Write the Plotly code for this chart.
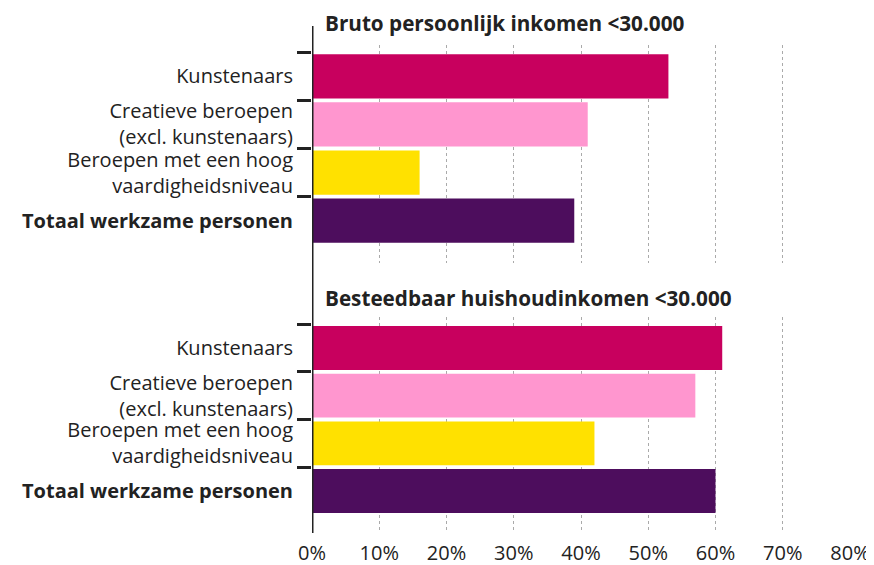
import plotly.graph_objects as go
from plotly.subplots import make_subplots

categories = ["Kunstenaars", "Creatieve beroepen<br>(excl. kunstenaars)",
              "Beroepen met een hoog<br>vaardigheidsniveau", "<b>Totaal werkzame personen</b>"]
bruto_values = [53, 41, 16, 39]
besteedbaar_values = [61, 57, 42, 60]
bar_colors = ["#C8005E", "#FF96CF", "#FFE100", "#4D0D5D"]
group_titles = ["Bruto persoonlijk inkomen <30.000", "Besteedbaar huishoudinkomen <30.000"]
x_ticks = [0, 10, 20, 30, 40, 50, 60, 70, 80]
x_ticklabels = [f"{v}%" for v in x_ticks]

FONT = "Open Sans"
TXT = "#222222"
FS = 20

OFF = 8  # page body margin
W, H = 874 - OFF, 565 - OFF
H_TOP, H_BOT = 45 - OFF, 533 - OFF
span = H_BOT - H_TOP
def py(p):
    return (H_BOT - (p - OFF)) / span

fig = make_subplots(rows=2, cols=1, shared_xaxes=False, vertical_spacing=0.0)

for i, vals in enumerate([bruto_values, besteedbaar_values]):
    fig.add_trace(go.Bar(y=categories, x=vals, orientation="h",
                         marker=dict(color=bar_colors, line=dict(width=0)),
                         showlegend=False, hoverinfo="skip"), row=i + 1, col=1)

dom1 = [py(263), 1.0]
dom2 = [0.0, py(317)]

yaxis_common = dict(type="category", categoryorder="array", categoryarray=categories,
                    range=[3.88, -0.65], tickson="boundaries", ticks="outside",
                    ticklen=14, tickwidth=2.5, tickcolor=TXT, showgrid=False,
                    showline=False, zeroline=False, automargin=False,
                    ticklabelstandoff=18,
                    tickfont=dict(family=FONT, size=FS, color=TXT))
xaxis_common = dict(range=[0, 80], tickvals=x_ticks, ticktext=x_ticklabels,
                    showgrid=True, griddash="dot", gridcolor="#AAAAAA", gridwidth=1,
                    zeroline=False, showline=False, ticks="", automargin=False)

fig.update_layout(
    width=W, height=H,
    margin=dict(l=312 - OFF, r=874 - 850, t=H_TOP, b=H - H_BOT),
    paper_bgcolor="white", plot_bgcolor="white",
    bargap=0.08,
    font=dict(family=FONT, color=TXT),
    yaxis=dict(domain=dom1, **yaxis_common),
    yaxis2=dict(domain=dom2, **yaxis_common),
    xaxis=dict(anchor="y", showticklabels=False, **xaxis_common),
    xaxis2=dict(anchor="y2", showticklabels=True, ticklabelstandoff=6,
                tickfont=dict(family=FONT, size=FS, color=TXT), **xaxis_common),
)

# continuous vertical axis line
fig.add_shape(type="line", xref="x", yref="paper", x0=0, x1=0,
              y0=0, y1=py(26), line=dict(color=TXT, width=3))

for title, ypix in zip(group_titles, [23, 298]):
    fig.add_annotation(text=f"<b>{title}</b>", xref="paper", yref="paper",
                       x=0, xshift=11, y=py(ypix), xanchor="left", yanchor="middle",
                       showarrow=False, font=dict(family=FONT, size=20.7, color=TXT))

fig.write_html("out.html")
